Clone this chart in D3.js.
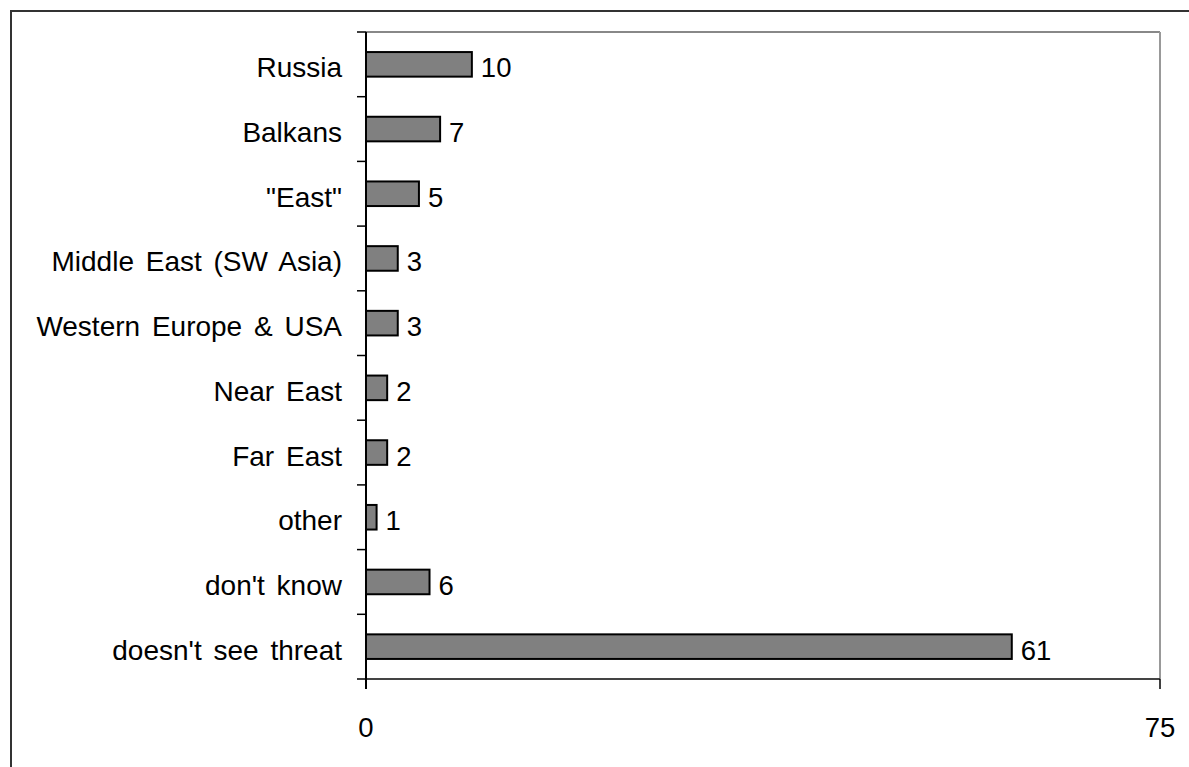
<!DOCTYPE html>
<html><head><meta charset="utf-8">
<script src="https://cdn.jsdelivr.net/npm/d3@7"></script>
<style>html,body{margin:0;padding:0;background:#fff;}svg{display:block;}</style>
</head><body>
<svg id="chart" width="1189" height="767"></svg>
<script>
const categories = ["Russia","Balkans","\"East\"","Middle East (SW Asia)","Western Europe & USA","Near East","Far East","other","don't know","doesn't see threat"];
const values = [10,7,5,3,3,2,2,1,6,61];
const xTicks = [0,75];

const svg = d3.select("#chart");
const W = 1189, H = 767;
const m = {left:366, right:1160, top:32, bottom:679};
const font = "'Liberation Sans', Arial, sans-serif";

// outer border
svg.append("rect").attr("x",11).attr("y",11).attr("width",W).attr("height",H)
  .attr("fill","none").attr("stroke","#333").attr("stroke-width",2);

const x = d3.scaleLinear().domain([0,75]).range([m.left,m.right]);
const y = d3.scaleBand().domain(categories).range([m.top,m.bottom]).paddingInner(0).paddingOuter(0);
const barH = y.bandwidth()*0.38;

// plot frame top & right (gray)
svg.append("line").attr("x1",m.left).attr("x2",m.right).attr("y1",m.top).attr("y2",m.top)
  .attr("stroke","#888").attr("stroke-width",2);
svg.append("line").attr("x1",m.right).attr("x2",m.right).attr("y1",m.top).attr("y2",m.bottom)
  .attr("stroke","#999").attr("stroke-width",2);

// bars
svg.append("g").selectAll("rect").data(values).join("rect")
  .attr("x",x(0)).attr("y",(d,i)=>y(categories[i])+y.bandwidth()/2-barH/2)
  .attr("width",d=>x(d)-x(0)).attr("height",barH)
  .attr("fill","#808080").attr("stroke","#000").attr("stroke-width",2);

// value labels
svg.append("g").selectAll("text").data(values).join("text")
  .attr("x",d=>x(d)+9).attr("y",(d,i)=>y(categories[i])+y.bandwidth()/2+13)
  .attr("font-family",font).attr("font-size",27.5).attr("fill","#000").text(d=>d);

// bottom axis
svg.append("line").attr("x1",m.left).attr("x2",m.right).attr("y1",m.bottom).attr("y2",m.bottom)
  .attr("stroke","#444").attr("stroke-width",2);
svg.append("g").selectAll("line").data(xTicks).join("line")
  .attr("x1",d=>x(d)).attr("x2",d=>x(d)).attr("y1",m.bottom).attr("y2",m.bottom+10)
  .attr("stroke","#000").attr("stroke-width",1.5);
svg.append("g").selectAll("text").data(xTicks).join("text")
  .attr("x",d=>x(d)).attr("y",737).attr("text-anchor","middle")
  .attr("font-family",font).attr("font-size",27.5).attr("fill","#000").text(d=>d);

// left axis
svg.append("line").attr("x1",m.left).attr("x2",m.left).attr("y1",m.top).attr("y2",m.bottom+10)
  .attr("stroke","#000").attr("stroke-width",2);
const bounds = categories.map(c=>y(c)).concat([m.bottom]);
svg.append("g").selectAll("line").data(bounds).join("line")
  .attr("x1",m.left-9).attr("x2",m.left).attr("y1",d=>d).attr("y2",d=>d)
  .attr("stroke","#000").attr("stroke-width",1.5);
svg.append("g").selectAll("text").data(categories).join("text")
  .attr("x",342).attr("y",d=>y(d)+y.bandwidth()/2+13).attr("text-anchor","end")
  .attr("word-spacing","4px")
  .attr("font-family",font).attr("font-size",28).attr("fill","#000").text(d=>d);
</script>
</body></html>
